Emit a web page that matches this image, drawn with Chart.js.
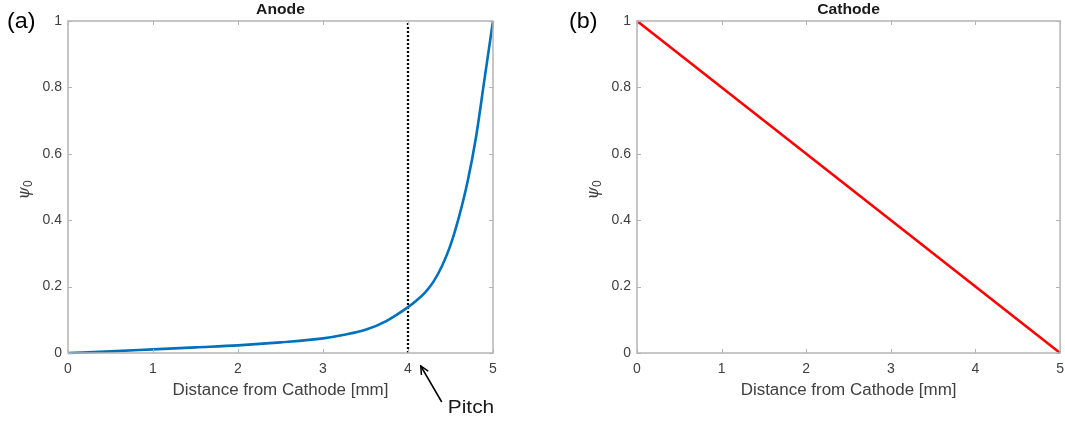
<!DOCTYPE html>
<html>
<head>
<meta charset="utf-8">
<script src="https://cdn.jsdelivr.net/npm/chart.js@4.4.0/dist/chart.umd.min.js"></script>
<style>
  html, body { margin: 0; padding: 0; background: #fff; }
  #wrap { position: relative; width: 1065px; height: 421px; overflow: hidden; }
  .panel { position: absolute; top: 0; height: 421px; }
</style>
</head>
<body>
<div id="wrap">
  <div class="panel" style="left:0;width:532px"><canvas id="c1" width="532" height="421"></canvas></div>
  <div class="panel" style="left:532px;width:540px"><canvas id="c2" width="540" height="421"></canvas></div>
</div>
<script>
// ---- data ----
const xTicks = [0, 1, 2, 3, 4, 5];
const yTicks = [0, 0.2, 0.4, 0.6, 0.8, 1];
const yTickLabels = ['0', '0.2', '0.4', '0.6', '0.8', '1'];

const anodeX   = [0, 0.5, 1, 1.5, 2, 2.5, 3, 3.25, 3.5, 3.75, 4, 4.1, 4.2, 4.3, 4.4, 4.5, 4.6, 4.7, 4.8, 4.9, 5];
const anodePsi = [0, 0.005, 0.011, 0.017, 0.023, 0.032, 0.044, 0.055, 0.07, 0.097, 0.138, 0.158, 0.182, 0.215, 0.262, 0.325, 0.41, 0.515, 0.65, 0.825, 1];

const cathodeX   = [0, 5];
const cathodePsi = [1, 0];

const pitchX = [4, 4];
const pitchY = [0, 1];

const titles = ['Anode', 'Cathode'];
const panelLabels = ['(a)', '(b)'];
const xLabel = 'Distance from Cathode [mm]';

const AXIS = '#b4b4b4';
const TXT = '#404040';
const FONT = '"Liberation Sans", Arial, Helvetica, sans-serif';

function pts(xs, ys) { return xs.map((x, i) => ({ x: x, y: ys[i] })); }

function stretchText(ctx, text, x, y, sx) {
  ctx.save();
  ctx.translate(x, y);
  ctx.scale(sx, 1);
  ctx.fillText(text, 0, 0);
  ctx.restore();
}

const boxPlugin = {
  id: 'boxPlugin',
  afterDraw(chart, args, opts) {
    const ctx = chart.ctx, a = chart.chartArea;
    const xs = chart.scales.x, ys = chart.scales.y;
    ctx.save();
    ctx.strokeStyle = AXIS; ctx.lineWidth = 1.5;
    ctx.strokeRect(a.left, a.top, a.right - a.left, a.bottom - a.top);
    ctx.lineWidth = 1;
    const tl = 4;
    xTicks.forEach(v => {
      const p = Math.round(xs.getPixelForValue(v)) + 0.5;
      ctx.beginPath(); ctx.moveTo(p, a.bottom); ctx.lineTo(p, a.bottom - tl); ctx.stroke();
      ctx.beginPath(); ctx.moveTo(p, a.top); ctx.lineTo(p, a.top + tl); ctx.stroke();
    });
    yTicks.forEach(v => {
      const p = Math.round(ys.getPixelForValue(v)) + 0.5;
      ctx.beginPath(); ctx.moveTo(a.left, p); ctx.lineTo(a.left + tl, p); ctx.stroke();
      ctx.beginPath(); ctx.moveTo(a.right, p); ctx.lineTo(a.right - tl, p); ctx.stroke();
    });
    const cx = (a.left + a.right) / 2;
    ctx.fillStyle = '#1a1a1a';
    ctx.textAlign = 'center'; ctx.textBaseline = 'middle';
    ctx.font = 'bold 14px ' + FONT;
    stretchText(ctx, opts.title, cx, 10, 1.12);
    ctx.fillStyle = TXT;
    ctx.font = '16px ' + FONT;
    stretchText(ctx, xLabel, cx, 391, 1.06);
    ctx.save();
    ctx.translate(a.left - 43, 187);
    ctx.rotate(-Math.PI / 2);
    ctx.font = 'italic 16px "DejaVu Serif", serif';
    ctx.fillStyle = TXT;
    ctx.textAlign = 'right';
    ctx.fillText('\u03C8', 0, 0);
    ctx.textAlign = 'left';
    ctx.font = '12px ' + FONT;
    ctx.fillText('0', 0, 4);
    ctx.restore();
    ctx.fillStyle = '#000';
    ctx.font = '22px ' + FONT;
    ctx.textAlign = 'left';
    stretchText(ctx, opts.panel, opts.panelX, 22, 1.06);
    if (opts.pitch) {
      const tipX = xs.getPixelForValue(4.15), tipY = a.bottom + 13;
      const tailX = tipX + 21, tailY = a.bottom + 49;
      ctx.strokeStyle = '#000'; ctx.lineWidth = 1.5;
      ctx.beginPath(); ctx.moveTo(tailX, tailY); ctx.lineTo(tipX, tipY); ctx.stroke();
      const ang = Math.atan2(tipY - tailY, tipX - tailX);
      const hl = 9;
      ctx.beginPath();
      ctx.moveTo(tipX + hl * Math.cos(ang + Math.PI - 0.45), tipY + hl * Math.sin(ang + Math.PI - 0.45));
      ctx.lineTo(tipX, tipY);
      ctx.lineTo(tipX + hl * Math.cos(ang + Math.PI + 0.45), tipY + hl * Math.sin(ang + Math.PI + 0.45));
      ctx.stroke();
      ctx.fillStyle = '#1a1a1a';
      ctx.font = '19px ' + FONT;
      ctx.textAlign = 'left'; ctx.textBaseline = 'middle';
      stretchText(ctx, 'Pitch', tailX + 6, a.bottom + 55, 1.1);
    }
    ctx.restore();
  }
};

function makeChart(id, datasets, padding, opts) {
  return new Chart(document.getElementById(id), {
    type: 'scatter',
    data: { datasets: datasets },
    options: {
      responsive: false,
      animation: false,
      devicePixelRatio: 1,
      layout: { padding: padding },
      plugins: { legend: { display: false }, tooltip: { enabled: false }, boxPlugin: opts },
      scales: {
        x: {
          type: 'linear', min: 0, max: 5,
          grid: { display: false, drawTicks: false },
          border: { display: false },
          afterBuildTicks: s => { s.ticks = xTicks.map(v => ({ value: v })); },
          afterFit: s => { s.height = 68; },
          ticks: { color: TXT, font: { family: FONT, size: 14 }, padding: 8, maxRotation: 0,
                   callback: v => String(v) }
        },
        y: {
          type: 'linear', min: 0, max: 1,
          grid: { display: false, drawTicks: false },
          border: { display: false },
          afterBuildTicks: s => { s.ticks = yTicks.map(v => ({ value: v })); },
          afterFit: s => { s.width = 68; },
          ticks: { color: TXT, font: { family: FONT, size: 14 }, padding: 6,
                   callback: v => yTickLabels[yTicks.indexOf(v)] }
        }
      }
    },
    plugins: [boxPlugin]
  });
}

makeChart('c1', [
  { data: pts(anodeX, anodePsi), showLine: true, borderColor: '#0072BD', borderWidth: 2.6,
    pointRadius: 0, cubicInterpolationMode: 'monotone', clip: false },
  { data: pts(pitchX, pitchY), showLine: true, borderColor: '#000', borderWidth: 2.2,
    borderDash: [2, 2], pointRadius: 0 }
], { left: 0, right: 39, top: 21, bottom: 0 },
{ title: titles[0], panel: panelLabels[0], panelX: 7, pitch: true });

makeChart('c2', [
  { data: pts(cathodeX, cathodePsi), showLine: true, borderColor: '#FF0000', borderWidth: 2.6,
    pointRadius: 0, clip: false }
], { left: 37, right: 4, top: 21, bottom: 0 },
{ title: titles[1], panel: panelLabels[1], panelX: 37, pitch: false });
</script>
</body>
</html>
